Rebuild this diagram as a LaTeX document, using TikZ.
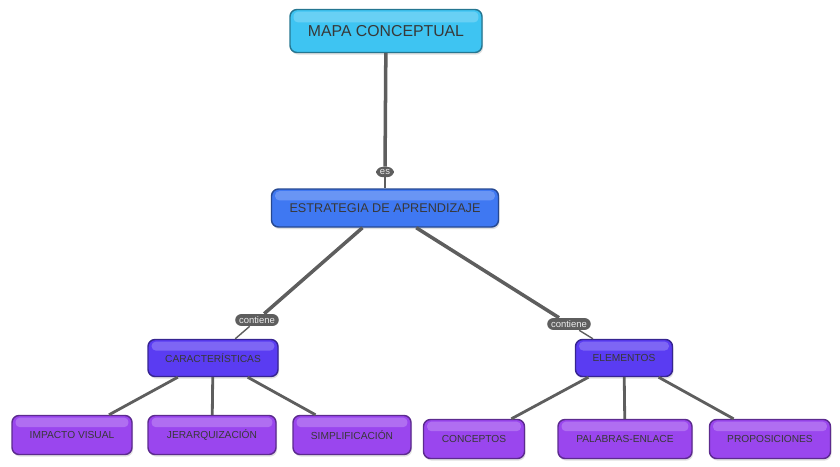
\documentclass[tikz,border=0pt]{standalone}
\usepackage{fontspec}
\setmainfont{Liberation Sans}
\usetikzlibrary{shadows,calc}

\definecolor{mapcyan}{HTML}{3EC4F2}
\definecolor{mapblue}{HTML}{3F78F2}
\definecolor{mapindigo}{HTML}{5A3CF2}
\definecolor{mappurple}{HTML}{9A46EE}
\definecolor{linkgray}{HTML}{5E5E5E}

\begin{document}
\begin{tikzpicture}[x=0.02cm, y=-0.02cm,
        boxnode/.style={rectangle, rounded corners=4pt, line width=0.8pt, inner sep=0pt,
                        text=black!78, draw=#1!60!black, fill=#1,
                        drop shadow={opacity=0.25, shadow xshift=0.6pt, shadow yshift=-1.2pt},
                        path picture={\fill[white, opacity=0.22, rounded corners=2.5pt]
                            ([shift={(2pt,-1.2pt)}]path picture bounding box.north west) rectangle
                            ($(path picture bounding box.north east)!0.3!(path picture bounding box.south east)+(-2pt,0)$);}},
        rootnode/.style={boxnode=mapcyan, minimum height=43*0.02cm, font=\fontsize{9}{10}\selectfont},
        topicnode/.style={boxnode=mapblue, minimum height=38*0.02cm, font=\fontsize{7.2}{8}\selectfont},
        groupnode/.style={boxnode=mapindigo, minimum height=37*0.02cm, font=\fontsize{5.8}{7}\selectfont},
        leafnode/.style={boxnode=mappurple, minimum height=39*0.02cm, font=\fontsize{5.8}{7}\selectfont},
        linknode/.style={rectangle, rounded corners=3.5pt, fill=linkgray, text=white!92!black,
                         inner xsep=2.2pt, inner ysep=1.4pt, font=\fontsize{5.4}{6}\selectfont},
        ]
                \useasboundingbox (0,0) rectangle (840,467);

                \node[rootnode, minimum width=192*0.02cm]  at(386,31)  (mapa) {MAPA CONCEPTUAL};
                \node[linknode]                            at(385,172) (es) {es};
                \node[topicnode, minimum width=227*0.02cm] at(385,208) (estrategia) {ESTRATEGIA DE APRENDIZAJE};

                \node[linknode] at(257,320) (contiene1) {contiene};
                \node[linknode] at(569,324) (contiene2) {contiene};

                \node[groupnode, minimum width=130*0.02cm] at(213,358) (caract) {CARACTERÍSTICAS};
                \node[groupnode, minimum width=97*0.02cm]  at(624,358) (elementos) {ELEMENTOS};

                \node[leafnode, minimum width=120*0.02cm] at(72,435)  (impacto) {IMPACTO VISUAL};
                \node[leafnode, minimum width=128*0.02cm] at(212,435) (jerarq) {JERARQUIZACIÓN};
                \node[leafnode, minimum width=118*0.02cm] at(352,435) (simplif) {SIMPLIFICACIÓN};
                \node[leafnode, minimum width=101*0.02cm] at(474,439) (conceptos) {CONCEPTOS};
                \node[leafnode, minimum width=134*0.02cm] at(625,439) (palabras) {PALABRAS-ENLACE};
                \node[leafnode, minimum width=121*0.02cm] at(770,439) (proposic) {PROPOSICIONES};

                \draw[-, linkgray, line width=2pt] (mapa) -- (es);
                \draw[-, linkgray, line width=1pt] (es) -- (estrategia);
                \draw[-, linkgray, line width=2pt] (estrategia) -- (contiene1);
                \draw[-, linkgray, line width=0.8pt] (contiene1) -- (caract);
                \draw[-, linkgray, line width=2pt] (estrategia) -- (contiene2);
                \draw[-, linkgray, line width=0.8pt] (contiene2) -- (elementos);

                \draw[-, linkgray, line width=1.6pt] (caract) -- (impacto);
                \draw[-, linkgray, line width=1.6pt] (caract) -- (jerarq);
                \draw[-, linkgray, line width=1.6pt] (caract) -- (simplif);
                \draw[-, linkgray, line width=1.6pt] (elementos) -- (conceptos);
                \draw[-, linkgray, line width=1.6pt] (elementos) -- (palabras);
                \draw[-, linkgray, line width=1.6pt] (elementos) -- (proposic);

            \end{tikzpicture}
\end{document}
